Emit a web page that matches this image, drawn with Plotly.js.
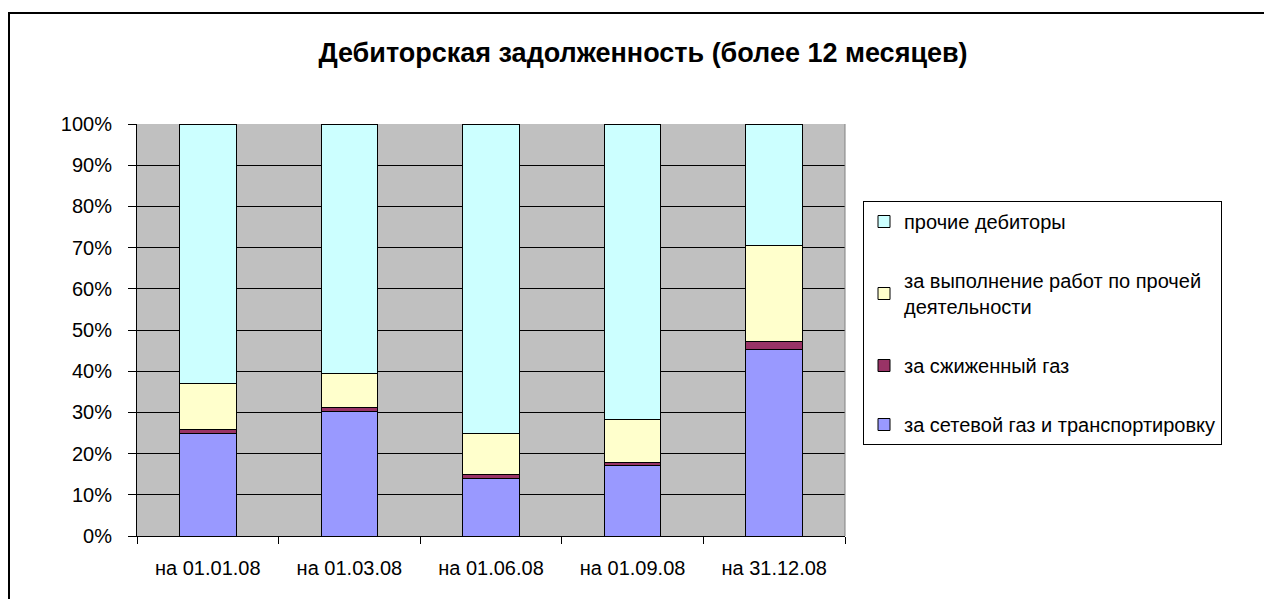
<!DOCTYPE html>
<html>
<head>
<meta charset="utf-8">
<script src="https://cdn.plot.ly/plotly-3.0.1.min.js"></script>
<style>
html,body{margin:0;padding:0;background:#fff;}
#wrap{position:relative;width:1264px;height:599px;overflow:hidden;}
#chart{position:absolute;left:0;top:0;width:1264px;height:599px;z-index:1;}
#frame{position:absolute;left:8px;top:12px;width:1300px;height:700px;border-top:2px solid #000;border-left:2px solid #000;pointer-events:none;z-index:5;}
#topline{position:absolute;left:8px;top:12px;width:1300px;height:2px;background:#000;z-index:6;}
</style>
</head>
<body>
<div id="wrap"><div id="chart"></div><div id="frame"></div><div id="topline"></div></div>
<script>
const categories = ["на 01.01.08", "на 01.03.08", "на 01.06.08", "на 01.09.08", "на 31.12.08"];
const seriesNames = [
  "за сетевой газ и транспортировку",
  "за сжиженный газ",
  "за выполнение работ по прочей<br>деятельности",
  "прочие дебиторы"
];
const setevoyGaz = [24.8, 30.3, 14.0, 17.0, 45.3];
const szhizhennyGaz = [1.0, 0.8, 0.9, 0.9, 2.0];
const prochayaDeyat = [11.2, 8.4, 9.9, 10.3, 23.1];
const prochieDebitory = [63.0, 60.5, 75.2, 71.8, 29.6];
const yTicks = [0, 10, 20, 30, 40, 50, 60, 70, 80, 90, 100];
const titleText = "Дебиторская задолженность (более 12 месяцев)";

const colors = ["#9999FF", "#993366", "#FFFFCC", "#CCFFFF"];
const seriesValues = [setevoyGaz, szhizhennyGaz, prochayaDeyat, prochieDebitory];
const FONT = "Liberation Sans, Arial, sans-serif";

const traces = seriesValues.map((vals, i) => ({
  type: "bar",
  x: categories,
  y: vals,
  name: seriesNames[i],
  legendgroup: "g" + i,
  legendrank: seriesValues.length - i,
  marker: {color: colors[i], line: {color: "#000", width: 1}},
  hoverinfo: "skip"
}));

const L = 137, R = 845, T = 124, B = 536, W = 1264, H = 599;
const px = v => (v - L) / (R - L);
const py = v => (B - v) / (B - T);

const layout = {
  width: W, height: H,
  margin: {l: L, r: W - R, t: T, b: H - B, autoexpand: false},
  paper_bgcolor: "#fff",
  plot_bgcolor: "#C0C0C0",
  barmode: "stack",
  bargap: 0.6,
  font: {family: FONT, size: 20, color: "#000"},
  title: {
    text: "<b>" + titleText + "</b>",
    font: {family: FONT, size: 27, color: "#000"},
    xref: "container", yref: "container",
    x: 643 / W, y: 1 - 53 / H, xanchor: "center", yanchor: "middle"
  },
  xaxis: {
    type: "category",
    showline: true, linecolor: "#000", linewidth: 1,
    ticks: "outside", tickson: "boundaries", ticklen: 7, tickcolor: "#000",
    ticklabelstandoff: 14,
    showgrid: false, zeroline: false,
    tickfont: {size: 20}
  },
  yaxis: {
    range: [0, 100],
    tickvals: yTicks,
    ticktext: yTicks.map(v => v + "%"),
    showline: true, linecolor: "#000", linewidth: 1,
    ticks: "outside", ticklen: 8, tickcolor: "#000",
    ticklabelstandoff: 12,
    showgrid: true, gridcolor: "#000", gridwidth: 1,
    zeroline: false,
    tickfont: {size: 20}
  },
  legend: {
    x: px(863), y: py(201), xanchor: "left", yanchor: "top",
    xref: "paper", yref: "paper",
    traceorder: "grouped",
    tracegroupgap: 30,
    bgcolor: "#fff", bordercolor: "#000", borderwidth: 1,
    font: {size: 20},
    itemwidth: 30
  },
  shapes: [
    {type: "line", xref: "paper", yref: "paper", x0: 1, x1: 1, y0: 0, y1: 1,
     line: {color: "#808080", width: 1}},
    {type: "line", xref: "paper", yref: "paper", x0: px(8), x1: px(1300), y0: py(13), y1: py(13),
     line: {color: "#000", width: 2}}
  ]
};

Plotly.newPlot("chart", traces, layout, {displayModeBar: false, staticPlot: true});
</script>
</body>
</html>
